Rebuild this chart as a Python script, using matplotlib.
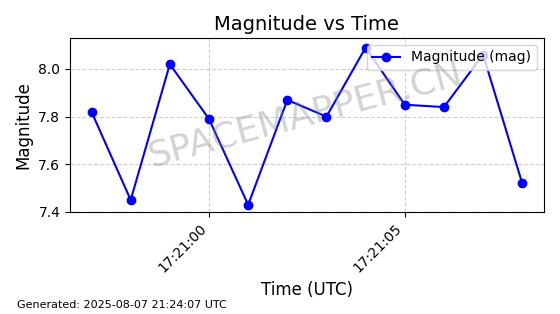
import matplotlib
matplotlib.use("Agg")
import matplotlib.pyplot as plt
import matplotlib.dates as mdates
import pandas as pd

# datos
tiempos = ["17:20:57", "17:20:58", "17:20:59", "17:21:00", "17:21:01", "17:21:02",
           "17:21:03", "17:21:04", "17:21:05", "17:21:06", "17:21:07", "17:21:08"]
magnitudes = [7.82, 7.45, 8.02, 7.79, 7.43, 7.87, 7.80, 8.09, 7.85, 7.84, 8.06, 7.52]

tt = pd.to_datetime(["2025-08-07 " + t for t in tiempos])

fig = plt.figure(figsize=(5.6, 3.14), dpi=100)
ax = fig.add_axes([0.125, 0.325, 0.846, 0.554])

ax.plot(tt, magnitudes, 'o-', color='blue', label='Magnitude (mag)', markersize=6, linewidth=1.5)

ax.set_title('Magnitude vs Time', fontsize=14)
ax.set_xlabel('Time (UTC)', fontsize=12)
ax.set_ylabel('Magnitude', fontsize=12)
ax.xaxis.set_major_formatter(mdates.DateFormatter('%H:%M:%S'))
ax.xaxis.set_major_locator(mdates.SecondLocator(bysecond=[0, 5, 10, 15, 20, 25, 30, 35, 40, 45, 50, 55]))
plt.setp(ax.get_xticklabels(), rotation=45, ha='right')
ax.set_yticks([7.4, 7.6, 7.8, 8.0])
ax.set_ylim(7.4, 8.13)
ax.grid(True, linestyle='--', alpha=0.6)
ax.legend(loc='upper right')

# marca de agua
fig.text(0.545, 0.635, 'SPACEMAPPER.CN', fontsize=26, color='gray', alpha=0.35,
         rotation=15, ha='center', va='center')

fig.text(0.03, 0.018, 'Generated: 2025-08-07 21:24:07 UTC', fontsize=8)

fig.savefig('out.png', dpi=100)
